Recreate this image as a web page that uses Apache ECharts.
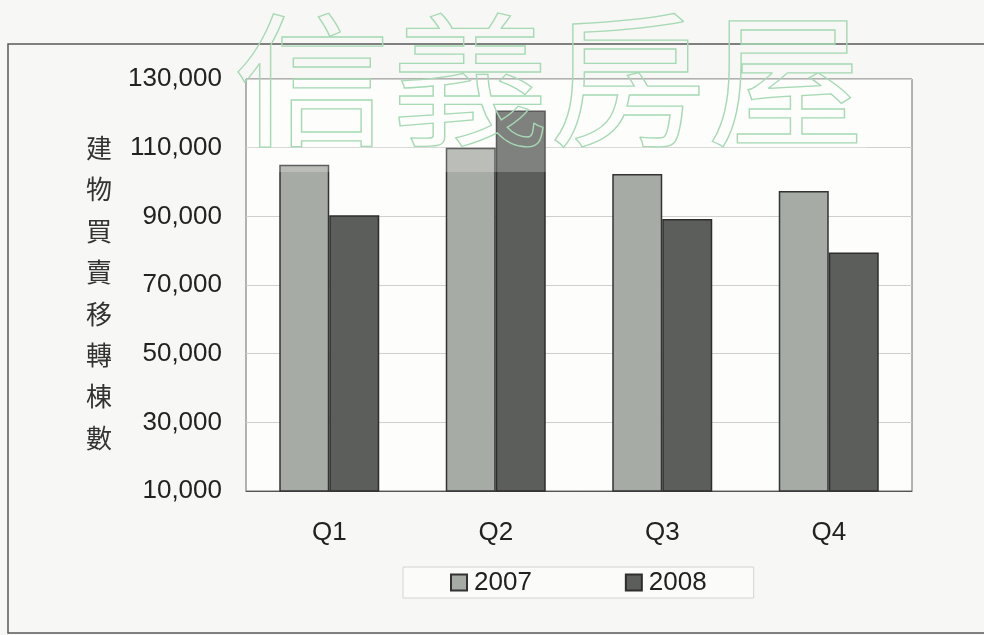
<!DOCTYPE html>
<html>
<head>
<meta charset="utf-8">
<script src="https://cdn.jsdelivr.net/npm/echarts@6/dist/echarts.min.js"></script>
<style>
html,body{margin:0;padding:0;background:#f7f7f5;}
#chart{width:984px;height:635px;}
</style>
</head>
<body>
<div id="chart"></div>
<script>
var categories = ['Q1', 'Q2', 'Q3', 'Q4'];
var series2007 = [105000, 110000, 102300, 97400];
var series2008 = [90300, 120800, 89200, 79500];
var seriesNames = ['2007', '2008'];
var yTitle = '建物買賣移轉棟數';
var watermark = '信義房屋';

var chart = echarts.init(document.getElementById('chart'), null, {renderer: 'canvas'});
var numFont = '"Liberation Sans", Arial, sans-serif';
var cjkFont = '"Noto Sans CJK TC", "Noto Sans CJK SC", sans-serif';

var option = {
  backgroundColor: '#f7f7f5',
  animation: false,
  grid: {
    left: 246, right: 72, top: 79, bottom: 144,
    show: true, backgroundColor: '#fdfdfc', borderColor: '#6a6a6a', borderWidth: 1
  },
  legend: {
    data: seriesNames,
    left: 403, top: 567,
    padding: [1, 47, 1, 47],
    itemGap: 93,
    itemWidth: 16, itemHeight: 16,
    icon: 'rect',
    borderColor: '#d4d4d4', borderWidth: 1,
    backgroundColor: '#fbfbfa',
    textStyle: {fontSize: 26, lineHeight: 29, color: '#222', fontFamily: numFont, padding: [0,0,0,2]}
  },
  xAxis: {
    type: 'category',
    data: categories,
    axisLine: {show: true, lineStyle: {color: '#555', width: 1}},
    axisTick: {show: false},
    axisLabel: {fontSize: 26, color: '#222', fontFamily: numFont, margin: 29}
  },
  yAxis: {
    type: 'value',
    min: 10000, max: 130000, interval: 20000,
    axisLine: {show: false},
    axisTick: {show: false},
    splitLine: {lineStyle: {color: '#cfcfcf', width: 1}},
    axisLabel: {
      fontSize: 26, color: '#222', fontFamily: numFont, margin: 24,
      formatter: function (v) { return v.toLocaleString('en-US'); }
    }
  },
  series: [
    {
      name: seriesNames[0], type: 'bar', data: series2007,
      barWidth: 50, barGap: '0%',
      itemStyle: {color: '#a7aba5', borderColor: '#333', borderWidth: 1.5}
    },
    {
      name: seriesNames[1], type: 'bar', data: series2008,
      barWidth: 50, barGap: '0%',
      itemStyle: {color: '#5c5e5b', borderColor: '#2e2e2e', borderWidth: 1.5}
    }
  ],
  graphic: [
    {
      type: 'rect', z: -1, silent: true,
      shape: {x: 8, y: 44, width: 1000, height: 589},
      style: {fill: 'none', stroke: '#5a5a5a', lineWidth: 1.5}
    },
    {
      type: 'rect', z: 50, silent: true,
      shape: {x: 247, y: 80, width: 620, height: 92},
      style: {fill: 'rgba(255,255,255,0.22)'}
    },
    {
      type: 'text', z: 100, silent: true,
      x: 99, y: 293,
      style: {
        text: yTitle.split('').join('\n'),
        fontSize: 26, lineHeight: 41.4, fill: '#333',
        fontFamily: cjkFont, textAlign: 'center', textVerticalAlign: 'middle'
      }
    },
    {
      type: 'text', z: 100, silent: true,
      x: 233, y: 8, scaleY: 0.91,
      style: {
        text: watermark,
        fontSize: 158, fontFamily: cjkFont,
        fill: 'rgba(0,0,0,0)', stroke: '#a6d9b4', lineWidth: 1.4,
        textAlign: 'left', textVerticalAlign: 'top'
      }
    }
  ]
};
chart.setOption(option);
</script>
</body>
</html>
